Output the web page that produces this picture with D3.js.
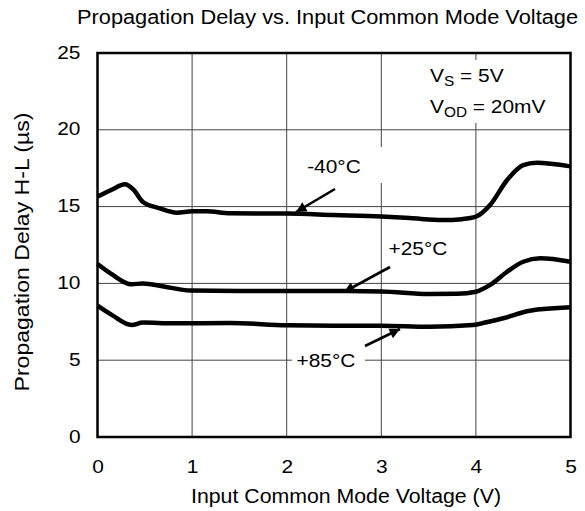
<!DOCTYPE html>
<html><head><meta charset="utf-8">
<script src="https://cdn.jsdelivr.net/npm/d3@7"></script>
<style>
html,body{margin:0;padding:0;background:#fff;}
svg text{font-family:"Liberation Sans",Arial,sans-serif;fill:#000;}
</style></head>
<body>
<svg id="chart" width="585" height="511"></svg>
<script>
// ---- data ----
const xTicks = [0, 1, 2, 3, 4, 5];
const yTicks = [0, 5, 10, 15, 20, 25];
const titleText = "Propagation Delay vs. Input Common Mode Voltage";
const xLabel = "Input Common Mode Voltage (V)";
const yLabel = "Propagation Delay H-L (µs)";
const seriesNames = ["-40°C", "+25°C", "+85°C"];
const voltsM40 = [0, 0.15, 0.29, 0.38, 0.48, 0.65, 0.84, 1.0, 1.15, 1.4, 2.0, 2.5, 3.0, 3.3, 3.65, 3.85, 4.0, 4.15, 4.33, 4.5, 4.64, 5.0];
const delayM40 = [15.65, 16.1, 16.45, 16.1, 15.3, 14.9, 14.6, 14.7, 14.7, 14.56, 14.55, 14.45, 14.35, 14.25, 14.12, 14.18, 14.34, 15.1, 16.73, 17.7, 17.86, 17.62];
const volts25 = [0, 0.15, 0.36, 0.48, 0.7, 0.98, 1.5, 2.0, 2.5, 3.0, 3.5, 3.8, 4.0, 4.15, 4.33, 4.5, 4.68, 5.0];
const delay25 = [11.26, 10.6, 9.94, 10.0, 9.8, 9.53, 9.5, 9.5, 9.5, 9.48, 9.31, 9.32, 9.46, 9.9, 10.76, 11.41, 11.63, 11.41];
const volts85 = [0, 0.15, 0.36, 0.48, 0.8, 1.4, 2.0, 2.5, 3.0, 3.5, 3.97, 4.1, 4.29, 4.57, 5.0];
const delay85 = [8.55, 7.95, 7.29, 7.45, 7.4, 7.42, 7.28, 7.25, 7.25, 7.18, 7.29, 7.45, 7.73, 8.22, 8.44];

const svg = d3.select("#chart");
const L = 97.5, R = 570.5, T = 53, B = 437;
const x = d3.scaleLinear().domain([0, 5]).range([L, R]);
const y = d3.scaleLinear().domain([0, 25]).range([B, T]);
const STRETCH = 1.1;
function widen(sel) {
  sel.each(function () {
    const w = this.getComputedTextLength();
    d3.select(this).attr("textLength", w * STRETCH).attr("lengthAdjust", "spacingAndGlyphs");
  });
}

// gridlines
const grid = svg.append("g");
grid.selectAll(".gx").data(xTicks.slice(1, -1)).join("line")
  .attr("x1", d => x(d)).attr("x2", d => x(d)).attr("y1", T).attr("y2", B)
  .attr("stroke", "#444").attr("stroke-width", 1);
grid.selectAll(".gy").data(yTicks.slice(1, -1)).join("line")
  .attr("x1", L).attr("x2", R).attr("y1", d => y(d)).attr("y2", d => y(d))
  .attr("stroke", "#444").attr("stroke-width", 1);

// white label boxes
const boxes = [[420, 60, 130, 63], [300, 147, 86, 36], [292, 348, 73, 24]];
svg.append("g").selectAll("rect").data(boxes).join("rect")
  .attr("x", d => d[0]).attr("y", d => d[1]).attr("width", d => d[2]).attr("height", d => d[3])
  .attr("fill", "#fff");

// axes (tick labels only)
const xAxis = svg.append("g").attr("transform", `translate(0,${B})`)
  .call(d3.axisBottom(x).tickValues(xTicks).tickSize(0).tickPadding(0).tickFormat(d3.format("d")));
xAxis.select(".domain").remove();
xAxis.selectAll("text").attr("dy", null).attr("y", 36).attr("font-size", 19).attr("font-family", null).call(widen);
const yAxis = svg.append("g").attr("transform", `translate(${L},0)`)
  .call(d3.axisLeft(y).tickValues(yTicks).tickSize(0).tickPadding(0).tickFormat(d3.format("d")));
yAxis.select(".domain").remove();
yAxis.selectAll("text").attr("dy", null).attr("x", -17).attr("y", 5).attr("font-size", 19).attr("font-family", null).call(widen);

// curves
const line = d3.line().x(d => x(d[0])).y(d => y(d[1])).curve(d3.curveMonotoneX);
const series = [d3.zip(voltsM40, delayM40), d3.zip(volts25, delay25), d3.zip(volts85, delay85)];
svg.append("g").selectAll("path").data(series).join("path")
  .attr("d", line).attr("fill", "none").attr("stroke", "#000").attr("stroke-width", 4.5)
  .attr("stroke-linejoin", "round");

// frame
svg.append("rect").attr("x", L).attr("y", T).attr("width", R - L).attr("height", B - T)
  .attr("fill", "none").attr("stroke", "#000").attr("stroke-width", 2.5);

// arrows
const defs = svg.append("defs");
defs.append("marker").attr("id", "ah").attr("viewBox", "0 0 10 10").attr("refX", 10).attr("refY", 5)
  .attr("markerWidth", 5).attr("markerHeight", 4).attr("markerUnits", "strokeWidth").attr("orient", "auto")
  .append("path").attr("d", "M0,0 L10,5 L0,10 Z").attr("fill", "#000");
const arrows = [[335, 189, 296, 212], [390, 267, 344, 292], [365, 346, 400, 329]];
svg.append("g").selectAll("line").data(arrows).join("line")
  .attr("x1", d => d[0]).attr("y1", d => d[1]).attr("x2", d => d[2]).attr("y2", d => d[3])
  .attr("stroke", "#000").attr("stroke-width", 2.6).attr("marker-end", "url(#ah)");

// labels
const labelPos = [[334, 173], [418, 255], [326, 367]];
svg.append("g").selectAll("text").data(seriesNames).join("text")
  .attr("x", (d, i) => labelPos[i][0]).attr("y", (d, i) => labelPos[i][1])
  .attr("text-anchor", "middle").attr("font-size", 19).text(d => d).call(widen);

const vs = svg.append("text").attr("x", 430).attr("y", 82).attr("font-size", 19);
vs.append("tspan").text("V");
vs.append("tspan").attr("dy", 4).attr("font-size", 14).text("S");
vs.append("tspan").attr("dy", -4).text(" = 5V");
vs.call(widen);
const vod = svg.append("text").attr("x", 430).attr("y", 113).attr("font-size", 19);
vod.append("tspan").text("V");
vod.append("tspan").attr("dy", 4).attr("font-size", 14).text("OD");
vod.append("tspan").attr("dy", -4).text(" = 20mV");
vod.call(widen);

// titles
svg.append("text").attr("x", 327.5).attr("y", 24).attr("text-anchor", "middle").attr("font-size", 20)
  .attr("textLength", 501).attr("lengthAdjust", "spacingAndGlyphs").text(titleText);
svg.append("text").attr("x", 346).attr("y", 503).attr("text-anchor", "middle").attr("font-size", 20)
  .attr("textLength", 310).attr("lengthAdjust", "spacingAndGlyphs").text(xLabel);
svg.append("text").attr("transform", "translate(29,252) rotate(-90)").attr("text-anchor", "middle").attr("font-size", 20)
  .attr("textLength", 279).attr("lengthAdjust", "spacingAndGlyphs").text(yLabel);
</script>
</body></html>
